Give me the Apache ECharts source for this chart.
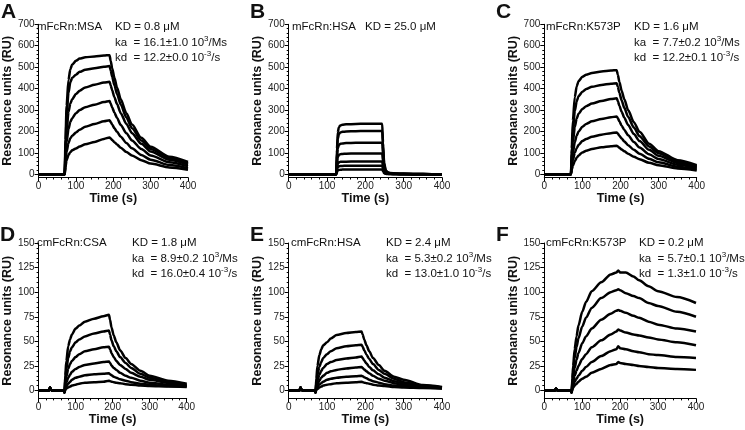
<!DOCTYPE html>
<html><head><meta charset="utf-8">
<script src="https://cdn.jsdelivr.net/npm/echarts@6/dist/echarts.min.js"></script>
<style>html,body{margin:0;padding:0;background:#fff}#c{width:745px;height:430px}</style>
</head><body><div id="c"></div>
<script>
// ---------- DATA ----------
const xTicks = [0, 100, 200, 300, 400];
const yTicksTop = [0, 100, 200, 300, 400, 500, 600, 700];
const yTicksBottom = [0, 25, 50, 75, 100, 125, 150];

// Panel A: mFcRn:MSA
const timeA = [0, 70, 72, 75, 80, 85, 90, 100, 110, 125, 150, 175, 190, 193, 197, 203, 210, 220, 235, 250, 275, 300, 350, 400];
const a1 = [0,0,160,320,440,490,512,530,540,546,550,554,556,530,495,450,405,350,285,232,170,128,82,58];
const a2 = [0,0,130,270,380,430,450,465,478,488,495,502,505,485,455,415,375,325,265,215,158,118,76,52];
const a3 = [0,0,100,200,290,330,350,375,390,405,418,428,432,415,392,360,328,285,235,192,142,106,68,45];
const a4 = [0,0,80,150,210,245,262,285,300,313,325,337,342,330,312,288,263,230,192,158,118,88,56,37];
const a5 = [0,0,55,105,145,168,180,195,208,222,235,247,252,244,232,215,198,175,146,121,90,68,43,28];
const a6 = [0,0,35,65,90,103,112,120,130,140,151,165,172,167,160,150,139,124,104,88,66,50,32,21];

// Panel B: mFcRn:HSA
const timeB = [0, 124, 126, 128, 131, 135, 140, 150, 175, 200, 225, 244, 246, 249, 253, 258, 265, 280, 300, 350, 400];
const b1 = [0,0,120,195,220,228,231,233,235,236,236,236,150,55,20,10,6,3,2,1,0];
const b2 = [0,0,100,165,188,195,198,200,201,202,202,202,130,47,17,9,5,3,2,1,0];
const b3 = [0,0,72,120,137,142,144,146,147,147,147,147,95,35,13,7,4,2,1,1,0];
const b4 = [0,0,48,80,90,94,95,96,97,97,97,97,62,23,9,5,3,2,1,0,0];
const b5 = [0,0,30,49,56,58,59,59,60,60,60,60,38,14,6,3,2,1,1,0,0];
const b6 = [0,0,20,33,37,39,39,40,40,40,40,40,26,10,4,2,1,1,0,0,0];
const b7 = [0,0,11,18,20,21,22,22,22,22,22,22,14,5,2,1,1,0,0,0,0];

// Panel C: mFcRn:K573P
const timeC = [0, 70, 72, 75, 80, 85, 90, 100, 110, 125, 150, 175, 190, 193, 197, 203, 210, 220, 235, 250, 275, 300, 350, 400];
const c1 = [0,0,120,250,360,410,435,455,465,473,480,484,486,465,432,390,350,300,243,198,143,108,66,43];
const c2 = [0,0,95,200,295,340,365,385,398,408,417,423,425,408,380,345,310,268,218,178,130,98,60,38];
const c3 = [0,0,70,150,220,260,283,305,318,330,342,351,355,342,320,292,264,230,188,155,114,86,53,33];
const c4 = [0,0,50,100,150,180,200,222,235,247,258,266,270,262,247,227,207,182,151,125,93,71,44,28];
const c5 = [0,0,32,65,100,122,137,155,165,175,185,192,195,190,180,167,153,136,114,96,72,56,35,22];
const c6 = [0,0,20,40,62,77,88,102,110,118,126,131,133,130,124,116,107,96,82,70,54,42,27,18];

// Panel D: cmFcRn:CSA
const timeD = [0, 28, 31, 33, 36, 68, 70, 72, 75, 80, 85, 90, 100, 110, 125, 150, 175, 190, 193, 197, 203, 210, 220, 235, 250, 275, 300, 350, 400];
const d1 = [0,0,3,1,0,0,-2,15,30,45,52,57,63,66,70,73,75.5,77,72,64,56,49,41,33,27,20,15,10,7];
const d2 = [0,0,3,1,0,0,-2,11,22,33,40,44,49,52,55,58,60,61,57,51,45,40,34,28,23,17,13,9,6];
const d3 = [0,0,3,1,0,0,-2,7,14,22,27,30,34,37,40,42,44,44.5,42,38,34,30,26,22,18,14,11,8,5];
const d4 = [0,0,3,1,0,0,-2,4,8,13,16,19,22,24,26,27.5,29,29.5,28,25.5,23,21,18,15,13,10,8,6,4.5];
const d5 = [0,0,3,1,0,0,-2,2,4,7,9,11,13,14,15.5,16.5,17,17.5,16.5,15.5,14,13,11.5,10,8.5,7,6,4.5,4];
const d6 = [0,0,3,1,0,0,-2,0.5,2,3,4,5,6,7,8,8.5,9,10,9.5,9,8.5,8,7.5,6.5,6,5,4.5,4,3.5];

// Panel E: cmFcRn:HSA
const timeE = [0, 28, 31, 33, 36, 68, 70, 72, 75, 80, 85, 90, 100, 110, 125, 150, 175, 190, 193, 197, 203, 210, 220, 235, 250, 275, 300, 350, 400];
const e1 = [0,0,3,1,0,0,-2,12,25,36,42,46,49,53,56.5,58.5,59.5,60,57,52,46,40,33,26,20,14,11,5.5,3.5];
const e2 = [0,0,3,1,0,0,-2,8,16,24,29,33,37,40,43,45,46,46.5,44.5,41,36.5,32,27,21,17,12,8.5,5,3];
const e3 = [0,0,3,1,0,0,-2,5,10,16,20,23,27,29,31,32.5,33.5,34.5,33,30.5,27.5,24,20.5,16.5,13,9.5,7,4.5,3];
const e4 = [0,0,3,1,0,0,-2,3,6,10,13,15,18,19.5,21,22.5,23.5,24,23,21.5,19.5,17.5,15,12,10,7.5,5.5,4,2.5];
const e5 = [0,0,3,1,0,0,-2,1.5,3.5,6,7.5,9,11,12,13,14,14.5,15,14.5,13.5,12.5,11,9.5,8,6.5,5,4,3,2];
const e6 = [0,0,3,1,0,0,-2,0.5,1.5,3,4,5,6,6.5,7.5,8,8.5,9,8.5,8,7.5,7,6,5,4.5,3.5,3,2.5,2];

// Panel F: cmFcRn:K573P
const timeF = [0, 28, 31, 33, 36, 70, 72, 74, 76, 80, 85, 90, 100, 110, 125, 150, 175, 190, 195, 200, 215, 235, 250, 275, 300, 350, 400];
const f1 = [0,0,2,0.5,0,0,-2,12,25,42,55,66,80,90,101,110,118,120,122,120,120,116,112,106,101,95,89];
const f2 = [0,0,2,0.5,0,0,-2,9,19,33,44,53,65,74,84,94,100,102,103,102,99,96,94,89,86,80,75];
const f3 = [0,0,2,0.5,0,0,-2,6,13,23,31,38,48,55,63,72,78,81,82,81,79,76,74,70,67,63,60];
const f4 = [0,0,2,0.5,0,0,-2,4,8,15,20,25,32,37,44,51,57,60,62,61,59,57,56,54,52,49,46];
const f5 = [0,0,2,0.5,0,0,-2,2,5,9,12,15,20,24,29,35,40,42,45,43,42,40,39,37,36,34,33];
const f6 = [0,0,2,0.5,0,0,-2,1,3,5,7,9,12,14,18,22,26,27,29,28,27,26,25,24,23,22,21];

// ---------- CHART ----------
const FONT = 'Liberation Sans, Arial, Helvetica, sans-serif';
const panels = [
  {grid:{left:35, top:24.3, width:153, height:153.2}, yMin:-15, yMax:700, major:yTicksTop, minorStep:20, t:timeA, s:[a1,a2,a3,a4,a5,a6]},
  {grid:{left:288.7, top:24.3, width:153.3, height:153.2}, yMin:-15, yMax:700, major:yTicksTop, minorStep:20, t:timeB, s:[b1,b2,b3,b4,b5,b6,b7]},
  {grid:{left:544.3, top:24.3, width:152.4, height:153.2}, yMin:-15, yMax:700, major:yTicksTop, minorStep:20, t:timeC, s:[c1,c2,c3,c4,c5,c6]},
  {grid:{left:35, top:243, width:151.7, height:155.4}, yMin:-8, yMax:150, major:yTicksBottom, minorStep:5, t:timeD, s:[d1,d2,d3,d4,d5,d6]},
  {grid:{left:288.7, top:243, width:153.3, height:155.4}, yMin:-8, yMax:150, major:yTicksBottom, minorStep:5, t:timeE, s:[e1,e2,e3,e4,e5,e6]},
  {grid:{left:544.3, top:243, width:151.7, height:155.4}, yMin:-8, yMax:150, major:yTicksBottom, minorStep:5, t:timeF, s:[f1,f2,f3,f4,f5,f6]}
];

const option = {animation:false, backgroundColor:'#fff', grid:[], xAxis:[], yAxis:[], series:[], graphic:[]};
const axisLineStyle = {color:'#000', width:1};
panels.forEach((p, i) => {
  option.grid.push(Object.assign({containLabel:false}, p.grid));
  option.xAxis.push({
    type:'value', gridIndex:i, min:0, max:400, interval:100, position:'bottom',
    axisLine:{show:true, onZero:false, lineStyle:axisLineStyle},
    axisTick:{show:true, length:4, lineStyle:axisLineStyle},
    minorTick:{show:true, splitNumber:5, length:2, lineStyle:axisLineStyle},
    axisLabel:{fontSize:10, color:'#222', margin:4, fontFamily:FONT, customValues:xTicks},
    splitLine:{show:false},
    name:'Time (s)', nameLocation:'middle', nameGap:15,
    nameTextStyle:{fontSize:12.5, fontWeight:'bold', color:'#111', fontFamily:FONT}
  });
  const minors = [];
  for (let v = 0; v <= p.yMax; v += p.minorStep) if (p.major.indexOf(v) < 0) minors.push(v);
  option.yAxis.push({
    type:'value', gridIndex:i, min:p.yMin, max:p.yMax, position:'left', offset:0,
    axisLine:{show:true, onZero:false, lineStyle:axisLineStyle},
    axisTick:{show:true, length:4, lineStyle:axisLineStyle, customValues:p.major},
    axisLabel:{fontSize:10, color:'#222', margin:4, fontFamily:FONT, customValues:p.major},
    splitLine:{show:false},
    name:'Resonance units (RU)', nameLocation:'middle', nameGap:20,
    nameTextStyle:{fontSize:12.5, fontWeight:'bold', color:'#111', fontFamily:FONT}
  });
  option.yAxis.push({
    type:'value', gridIndex:i, min:p.yMin, max:p.yMax, position:'left', offset:0,
    axisLine:{show:false, onZero:false},
    axisTick:{show:true, length:2, lineStyle:axisLineStyle, customValues:minors},
    axisLabel:{show:false},
    splitLine:{show:false}
  });
  p.s.forEach(vals => {
    option.series.push({
      type:'line', xAxisIndex:i, yAxisIndex:2*i, showSymbol:false, symbol:'none',
      smooth:0.25, smoothMonotone:'x',
      lineStyle:{color:'#000', width:2.5},
      data: p.t.map((t, k) => [t, vals[k]])
    });
  });
});

const sup = {fontSize:8, verticalAlign:'top', fontFamily:FONT, fill:'#111', lineHeight:14};
function txt(x, y, text, size, bold) {
  return {type:'text', x:x, y:y, silent:true, style:{
    text:text, fill:'#111', fontSize:size, fontWeight:bold ? 'bold' : 'normal', fontFamily:FONT,
    verticalAlign:'middle', align:'left',
    rich:{n:{fontSize:size, fontFamily:FONT, fill:'#111', lineHeight:14, verticalAlign:'bottom'}, s:sup}
  }};
}
const G = option.graphic;
// panel letters
[['A',1,12],['B',250,12],['C',496,12],['D',0,235],['E',250,235],['F',496,235]].forEach(a => G.push(txt(a[1], a[2], a[0], 21, true)));
// annotations
G.push(txt(37, 27, 'mFcRn:MSA', 11.5));
G.push(txt(115, 27, 'KD = 0.8 μM', 11.5));
G.push(txt(115, 42, '{n|ka  = 16.1±1.0 10}{s|3}{n|/Ms}', 11.5));
G.push(txt(115, 57, '{n|kd  = 12.2±0.0 10}{s|-3}{n|/s}', 11.5));
G.push(txt(292, 27, 'mFcRn:HSA', 11.5));
G.push(txt(365, 27, 'KD = 25.0 μM', 11.5));
G.push(txt(546, 27, 'mFcRn:K573P', 11.5));
G.push(txt(634, 27, 'KD = 1.6 μM', 11.5));
G.push(txt(634, 42, '{n|ka  = 7.7±0.2 10}{s|3}{n|/Ms}', 11.5));
G.push(txt(634, 57, '{n|kd  = 12.2±0.1 10}{s|-3}{n|/s}', 11.5));
G.push(txt(37, 243, 'cmFcRn:CSA', 11.5));
G.push(txt(132, 243, 'KD = 1.8 μM', 11.5));
G.push(txt(132, 258, '{n|ka  = 8.9±0.2 10}{s|3}{n|/Ms}', 11.5));
G.push(txt(132, 273, '{n|kd  = 16.0±0.4 10}{s|-3}{n|/s}', 11.5));
G.push(txt(291, 243, 'cmFcRn:HSA', 11.5));
G.push(txt(386, 243, 'KD = 2.4 μM', 11.5));
G.push(txt(386, 258, '{n|ka  = 5.3±0.2 10}{s|3}{n|/Ms}', 11.5));
G.push(txt(386, 273, '{n|kd  = 13.0±1.0 10}{s|-3}{n|/s}', 11.5));
G.push(txt(546, 243, 'cmFcRn:K573P', 11.5));
G.push(txt(639, 243, 'KD = 0.2 μM', 11.5));
G.push(txt(639, 258, '{n|ka  = 5.7±0.1 10}{s|3}{n|/Ms}', 11.5));
G.push(txt(639, 273, '{n|kd  = 1.3±1.0 10}{s|-3}{n|/s}', 11.5));

const chart = echarts.init(document.getElementById('c'), null, {renderer:'canvas'});
chart.setOption(option);
</script></body></html>
